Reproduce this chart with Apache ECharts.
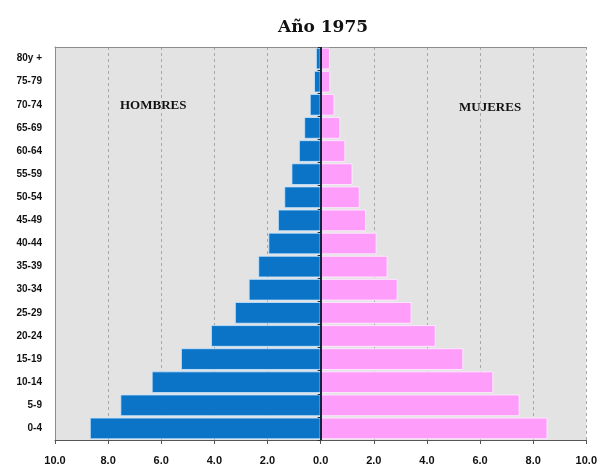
<!DOCTYPE html>
<html>
<head>
<meta charset="utf-8">
<script src="https://cdn.jsdelivr.net/npm/echarts@6/dist/echarts.min.js"></script>
<style>
html,body{margin:0;padding:0;background:#fff;}
#chart{width:600px;height:469px;}
</style>
</head>
<body>
<div id="chart"></div>
<script>
var title = 'Año 1975';
var categories = ['0-4','5-9','10-14','15-19','20-24','25-29','30-34','35-39','40-44','45-49','50-54','55-59','60-64','65-69','70-74','75-79','80y +'];
var hombres = [8.69, 7.54, 6.36, 5.26, 4.13, 3.23, 2.71, 2.35, 1.97, 1.61, 1.37, 1.10, 0.82, 0.62, 0.41, 0.25, 0.18];
var mujeres = [8.54, 7.49, 6.50, 5.37, 4.33, 3.42, 2.90, 2.52, 2.11, 1.71, 1.47, 1.20, 0.93, 0.74, 0.52, 0.36, 0.35];
var xTicks = { min: -10, max: 10, interval: 2 };

var chart = echarts.init(document.getElementById('chart'), null, {renderer: 'canvas'});
var lblFont = {fontFamily: 'Liberation Sans', fontWeight: 'bold', fontSize: 10, color: '#111'};
chart.setOption({
  animation: false,
  backgroundColor: '#fff',
  title: {
    text: title, left: 318, top: 14, textAlign: 'center',
    textStyle: {fontFamily: 'DejaVu Serif', fontWeight: 'bold', fontSize: 17, color: '#111'}
  },
  grid: {
    left: 55, right: 11, top: 47, bottom: 29,
    show: true, backgroundColor: '#e3e3e3', borderWidth: 0
  },
  xAxis: [
    {
      type: 'value', min: xTicks.min, max: xTicks.max, interval: xTicks.interval, position: 'bottom',
      axisLine: {show: true, onZero: false, lineStyle: {color: '#555', width: 1}},
      axisTick: {show: true, length: 4, lineStyle: {color: '#555'}},
      axisLabel: Object.assign({margin: 15, formatter: function(v){ return Math.abs(v).toFixed(1); }}, lblFont, {fontSize: 11}),
      splitLine: {show: true, lineStyle: {color: '#a8a8a8', type: [3, 3], width: 1}}
    },
    {
      type: 'value', min: xTicks.min, max: xTicks.max, interval: xTicks.interval, position: 'top',
      axisLine: {show: true, onZero: false, lineStyle: {color: '#8c8c8c', width: 1}},
      axisTick: {show: false}, axisLabel: {show: false}, splitLine: {show: false}
    }
  ],
  yAxis: [
    {
      type: 'category', data: categories, position: 'right', z: 10,
      axisLine: {show: false, onZero: true},
      axisTick: {show: true, length: 3, inside: true, lineStyle: {color: '#1c2d44'}},
      axisLabel: {show: false},
      splitLine: {show: false}
    },
    {
      type: 'category', data: categories, position: 'left',
      axisLine: {show: true, onZero: false, lineStyle: {color: '#8c8c8c', width: 1}},
      axisTick: {show: false},
      axisLabel: Object.assign({margin: 13}, lblFont),
      splitLine: {show: false}
    }
  ],
  series: [
    {
      name: 'HOMBRES', type: 'bar', yAxisIndex: 0, xAxisIndex: 0,
      data: hombres.map(function(v){ return -v; }),
      barGap: '-100%', barCategoryGap: '6%',
      itemStyle: {color: '#0b74c6', borderColor: 'rgba(200,230,255,0.8)', borderWidth: 1}
    },
    {
      name: 'MUJERES', type: 'bar', yAxisIndex: 0, xAxisIndex: 0,
      data: mujeres,
      barGap: '-100%', barCategoryGap: '6%',
      itemStyle: {color: '#ff9dfb', borderColor: 'rgba(255,235,255,0.9)', borderWidth: 1},
      markLine: {
        silent: true, symbol: ['none', 'none'], z: 20,
        label: {show: false},
        emphasis: {disabled: true},
        lineStyle: {color: '#14243c', width: 2, type: 'solid', opacity: 1},
        data: [{xAxis: 0}]
      }
    }
  ],
  graphic: [
    {type: 'text', left: 120, top: 99, style: {text: 'HOMBRES', font: 'bold 13px "Liberation Serif"', fill: '#111'}},
    {type: 'text', left: 459, top: 101, style: {text: 'MUJERES', font: 'bold 13px "Liberation Serif"', fill: '#111'}}
  ]
});
</script>
</body>
</html>
